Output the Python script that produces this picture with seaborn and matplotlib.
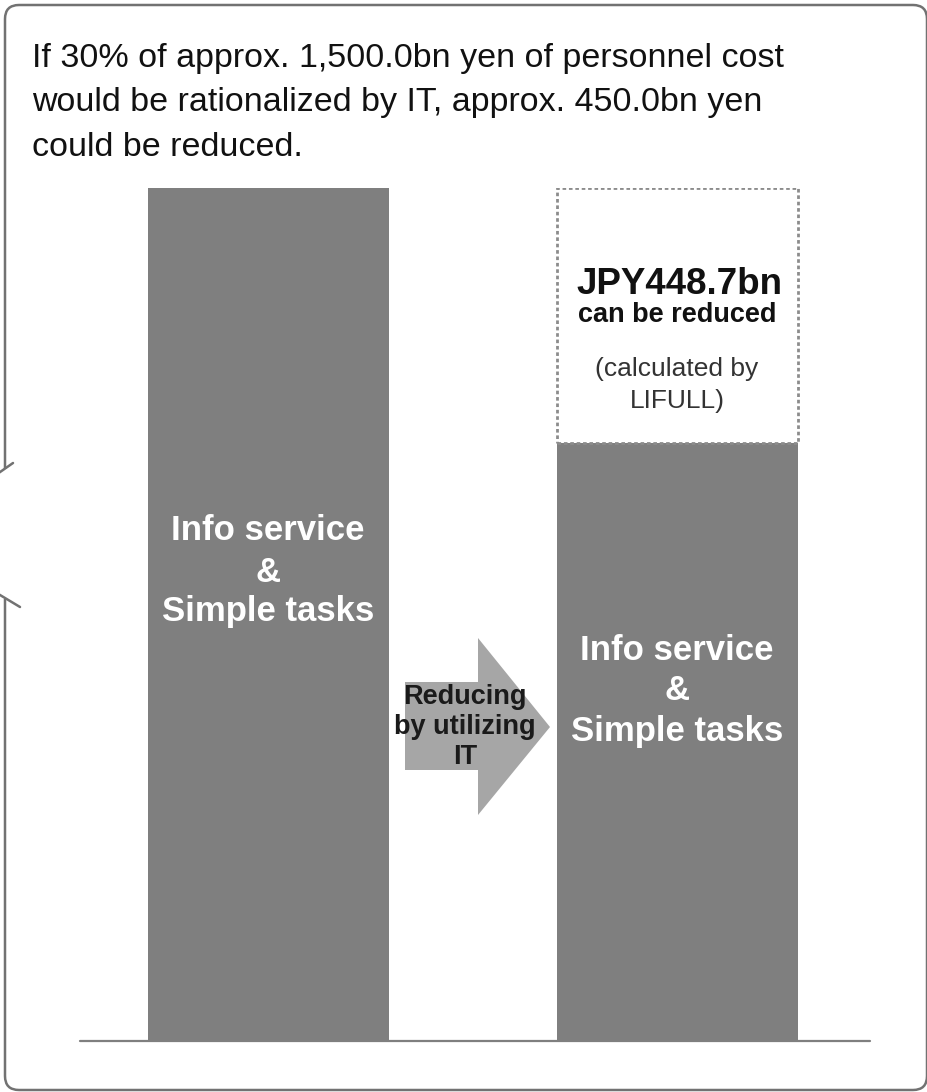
import matplotlib
matplotlib.use("Agg")
import matplotlib.pyplot as plt
import seaborn as sns
import pandas as pd
from matplotlib.patches import FancyBboxPatch, Polygon

# ---- data (bn yen) ----
stages = ["Current", "After IT"]
personnel_cost = 1500.0
reduction = 448.7
remaining = personnel_cost - reduction
bar_values = [personnel_cost, remaining]
bar_label_lines = ["Info service", "&", "Simple tasks"]
title_lines = [
    "If 30% of approx. 1,500.0bn yen of personnel cost",
    "would be rationalized by IT, approx. 450.0bn yen",
    "could be reduced.",
]
arrow_lines = ["Reducing", "by utilizing", "IT"]
reduction_lines = [f"JPY{reduction:.1f}bn", "can be reduced"]
note_lines = ["(calculated by", "LIFULL)"]

sns.set_theme(style="white")
plt.rcParams["font.family"] = ["Liberation Sans", "DejaVu Sans"]

W, H = 928, 1092
fig = plt.figure(figsize=(W / 100, H / 100), dpi=100)
fig.patch.set_facecolor("white")

BAR_GRAY = "#7f7f7f"
LINE_GRAY = "#727272"

# ---- bar axes: y=0 at pixel 1041, y=1500 at pixel 188 ----
base_px, top_px = 1041, 188
ax = fig.add_axes([0, (H - base_px) / H, 1, (base_px - top_px) / H])
df = pd.DataFrame({"stage": stages, "cost": bar_values})
bar_w = 241 / 409
sns.barplot(data=df, x="stage", y="cost", color=BAR_GRAY, saturation=1,
            width=bar_w, ax=ax, linewidth=0)
# reduced portion, outlined with a dotted frame
ax.bar(1, reduction, bottom=remaining, width=bar_w, fill=False,
       edgecolor="#8c8c8c", linestyle=(0, (1.3, 1.0)), linewidth=2.0)
ax.set_xlim(-268.5 / 409, (W - 268.5) / 409)
ax.set_ylim(0, personnel_cost)
ax.axhline(0, xmin=80 / W, xmax=870 / W, color=BAR_GRAY, lw=1.6, clip_on=False)
ax.set_axis_off()

# ---- overlay in pixel coordinates for frame, arrow and text ----
ov = fig.add_axes([0, 0, 1, 1], zorder=5)
ov.set_xlim(0, W)
ov.set_ylim(H, 0)
ov.set_axis_off()
ov.patch.set_alpha(0)

frame = FancyBboxPatch((5, 5), 922, 1085, boxstyle="round,pad=0,rounding_size=14",
                       fill=False, edgecolor=LINE_GRAY, lw=1.8)
ov.add_patch(frame)
# opening for the callout pointer on the left side
ov.plot([5, 5], [469, 599], color="white", lw=4, solid_capstyle="butt")
ov.plot([13, -30], [463, 493], color=LINE_GRAY, lw=1.8)
ov.plot([20, -30], [607, 577], color=LINE_GRAY, lw=1.8)

# arrow between the bars
ov.add_patch(Polygon([(405, 682), (478, 682), (478, 638), (550, 727),
                      (478, 815), (478, 770), (405, 770)],
                     closed=True, facecolor="#a6a6a6", edgecolor="none"))
for line, y in zip(arrow_lines, [697, 727, 757]):
    ov.text(465, y, line, ha="center", va="center", fontsize=19.5,
            fontweight="bold", color="#1a1a1a")

# headline
for line, y in zip(title_lines, [58, 103, 148]):
    ov.text(32, y, line, ha="left", va="center", fontsize=24.5, color="#111111")

# labels inside the bars
for cx, ys in [(268, [530, 573, 611]), (677, [651, 691, 731])]:
    for line, y in zip(bar_label_lines, ys):
        ov.text(cx, y, line, ha="center", va="center", fontsize=25,
                fontweight="bold", color="white")

# reduction callout
ov.text(679, 284, reduction_lines[0], ha="center", va="center", fontsize=26.5,
        fontweight="bold", color="#111111")
ov.text(677, 315, reduction_lines[1], ha="center", va="center", fontsize=19.5,
        fontweight="bold", color="#111111")
for line, y in zip(note_lines, [369, 401]):
    ov.text(677, y, line, ha="center", va="center", fontsize=19, color="#333333")

fig.savefig("out.png", dpi=100, facecolor="white")
